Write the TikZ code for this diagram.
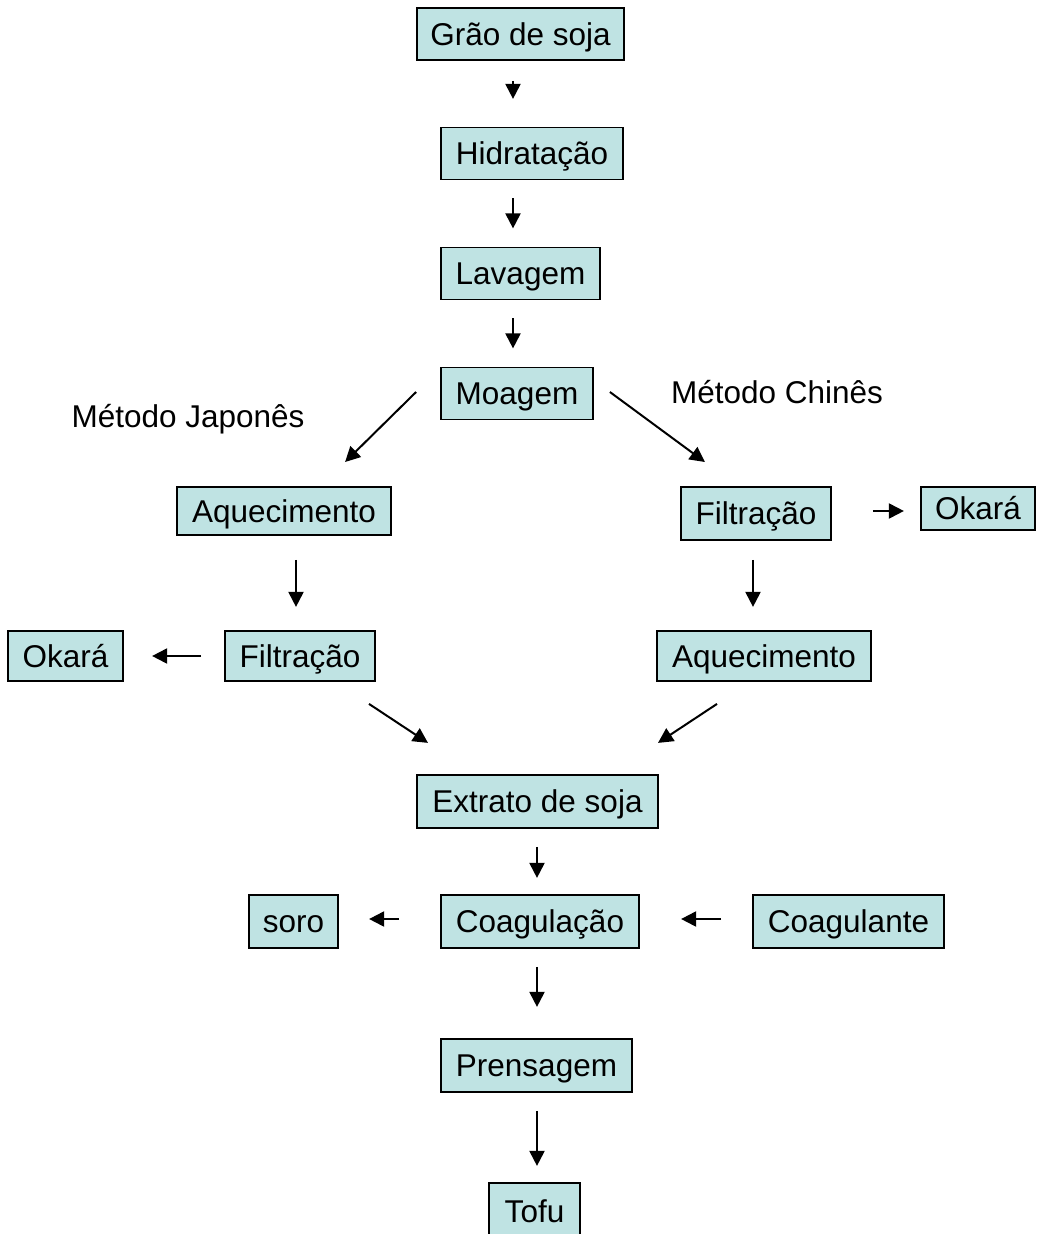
\documentclass[tikz,border=0pt]{standalone}
\usepackage{fontspec}
\setmainfont{Liberation Sans}
\usetikzlibrary{arrows.meta}
\definecolor{boxfill}{RGB}{191,227,227}
\begin{document}
\begin{tikzpicture}[x=1pt,y=-1pt,
  stepbox/.style={draw=black,line width=1.8pt,fill=boxfill,minimum height=52pt,inner sep=0pt,
    text height=22.7pt,text depth=0pt,font=\fontsize{31.5}{36}\selectfont},
  lbl/.style={inner sep=0pt,text height=22.7pt,text depth=0pt,font=\fontsize{31.5}{36}\selectfont},
  arr/.style={line width=2pt,-{Triangle[length=15pt,width=15pt]}}]
\clip (0,0) rectangle (1036,1234);
\fill[white] (0,0) rectangle (1036,1234);
\node[stepbox,minimum width=207pt] (g) at (520.5,34) {Grão de soja};
\node[stepbox,minimum width=182pt] (h) at (532,153.5) {Hidratação};
\node[stepbox,minimum width=159pt] (l) at (520.5,273.5) {Lavagem};
\node[stepbox,minimum width=152pt] (m) at (517,393.5) {Moagem};
\node[stepbox,minimum width=214pt,minimum height=48pt] (aqL) at (284,511) {Aquecimento};
\node[stepbox,minimum width=150pt,minimum height=53pt] (fiR) at (756,513.5) {Filtração};
\node[stepbox,minimum width=114pt,minimum height=43pt] (okR) at (978,508.5) {Okará};
\node[stepbox,minimum width=115pt,minimum height=50pt] (okL) at (65.5,656) {Okará};
\node[stepbox,minimum width=150pt,minimum height=50pt] (fiL) at (300,656) {Filtração};
\node[stepbox,minimum width=214pt,minimum height=50pt] (aqR) at (764,656) {Aquecimento};
\node[stepbox,minimum width=241pt,minimum height=53pt] (ext) at (537.5,801.5) {Extrato de soja};
\node[stepbox,minimum width=89pt,minimum height=53pt] (soro) at (293.5,921.5) {soro};
\node[stepbox,minimum width=198pt,minimum height=53pt] (coag) at (540,921.5) {Coagulação};
\node[stepbox,minimum width=191pt,minimum height=53pt] (cte) at (848.5,921.5) {Coagulante};
\node[stepbox,minimum width=191pt,minimum height=53pt] (pren) at (536.5,1065.5) {Prensagem};
\node[stepbox,minimum width=91pt,minimum height=56pt] (tofu) at (534.5,1211) {Tofu};
\node[lbl] (jp) at (188,416) {Método Japonês};
\node[lbl] (cn) at (777,392) {Método Chinês};
\draw[arr] ([shift={(-7.5,20)}]g.south) -- ++(0,18);
\draw[arr] ([shift={(-19,18)}]h.south) -- ++(0,30);
\draw[arr] ([shift={(-7.5,18)}]l.south) -- ++(0,30);
\draw[arr] ([shift={(-24,-1.5)}]m.west) -- ++(-71,70);
\draw[arr] ([shift={(16,-1.5)}]m.east) -- ++(95,70);
\draw[arr] ([shift={(12,24)}]aqL.south) -- ++(0,47);
\draw[arr] ([shift={(-23,0)}]fiL.west) -- ++(-49,0);
\draw[arr] ([shift={(41,-2.5)}]fiR.east) -- ++(31,0);
\draw[arr] ([shift={(-3,19)}]fiR.south) -- ++(0,47);
\draw[arr] ([shift={(69,22)}]fiL.south) -- ++(59,39);
\draw[arr] ([shift={(-47,22)}]aqR.south) -- ++(-59,39);
\draw[arr] ([shift={(-0.5,18)}]ext.south) -- ++(0,31);
\draw[arr] ([shift={(-41,-2.5)}]coag.west) -- ++(-30,0);
\draw[arr] ([shift={(-31,-2.5)}]cte.west) -- ++(-40,0);
\draw[arr] ([shift={(-3,18)}]coag.south) -- ++(0,40);
\draw[arr] ([shift={(0.5,18)}]pren.south) -- ++(0,55);
\end{tikzpicture}
\end{document}
